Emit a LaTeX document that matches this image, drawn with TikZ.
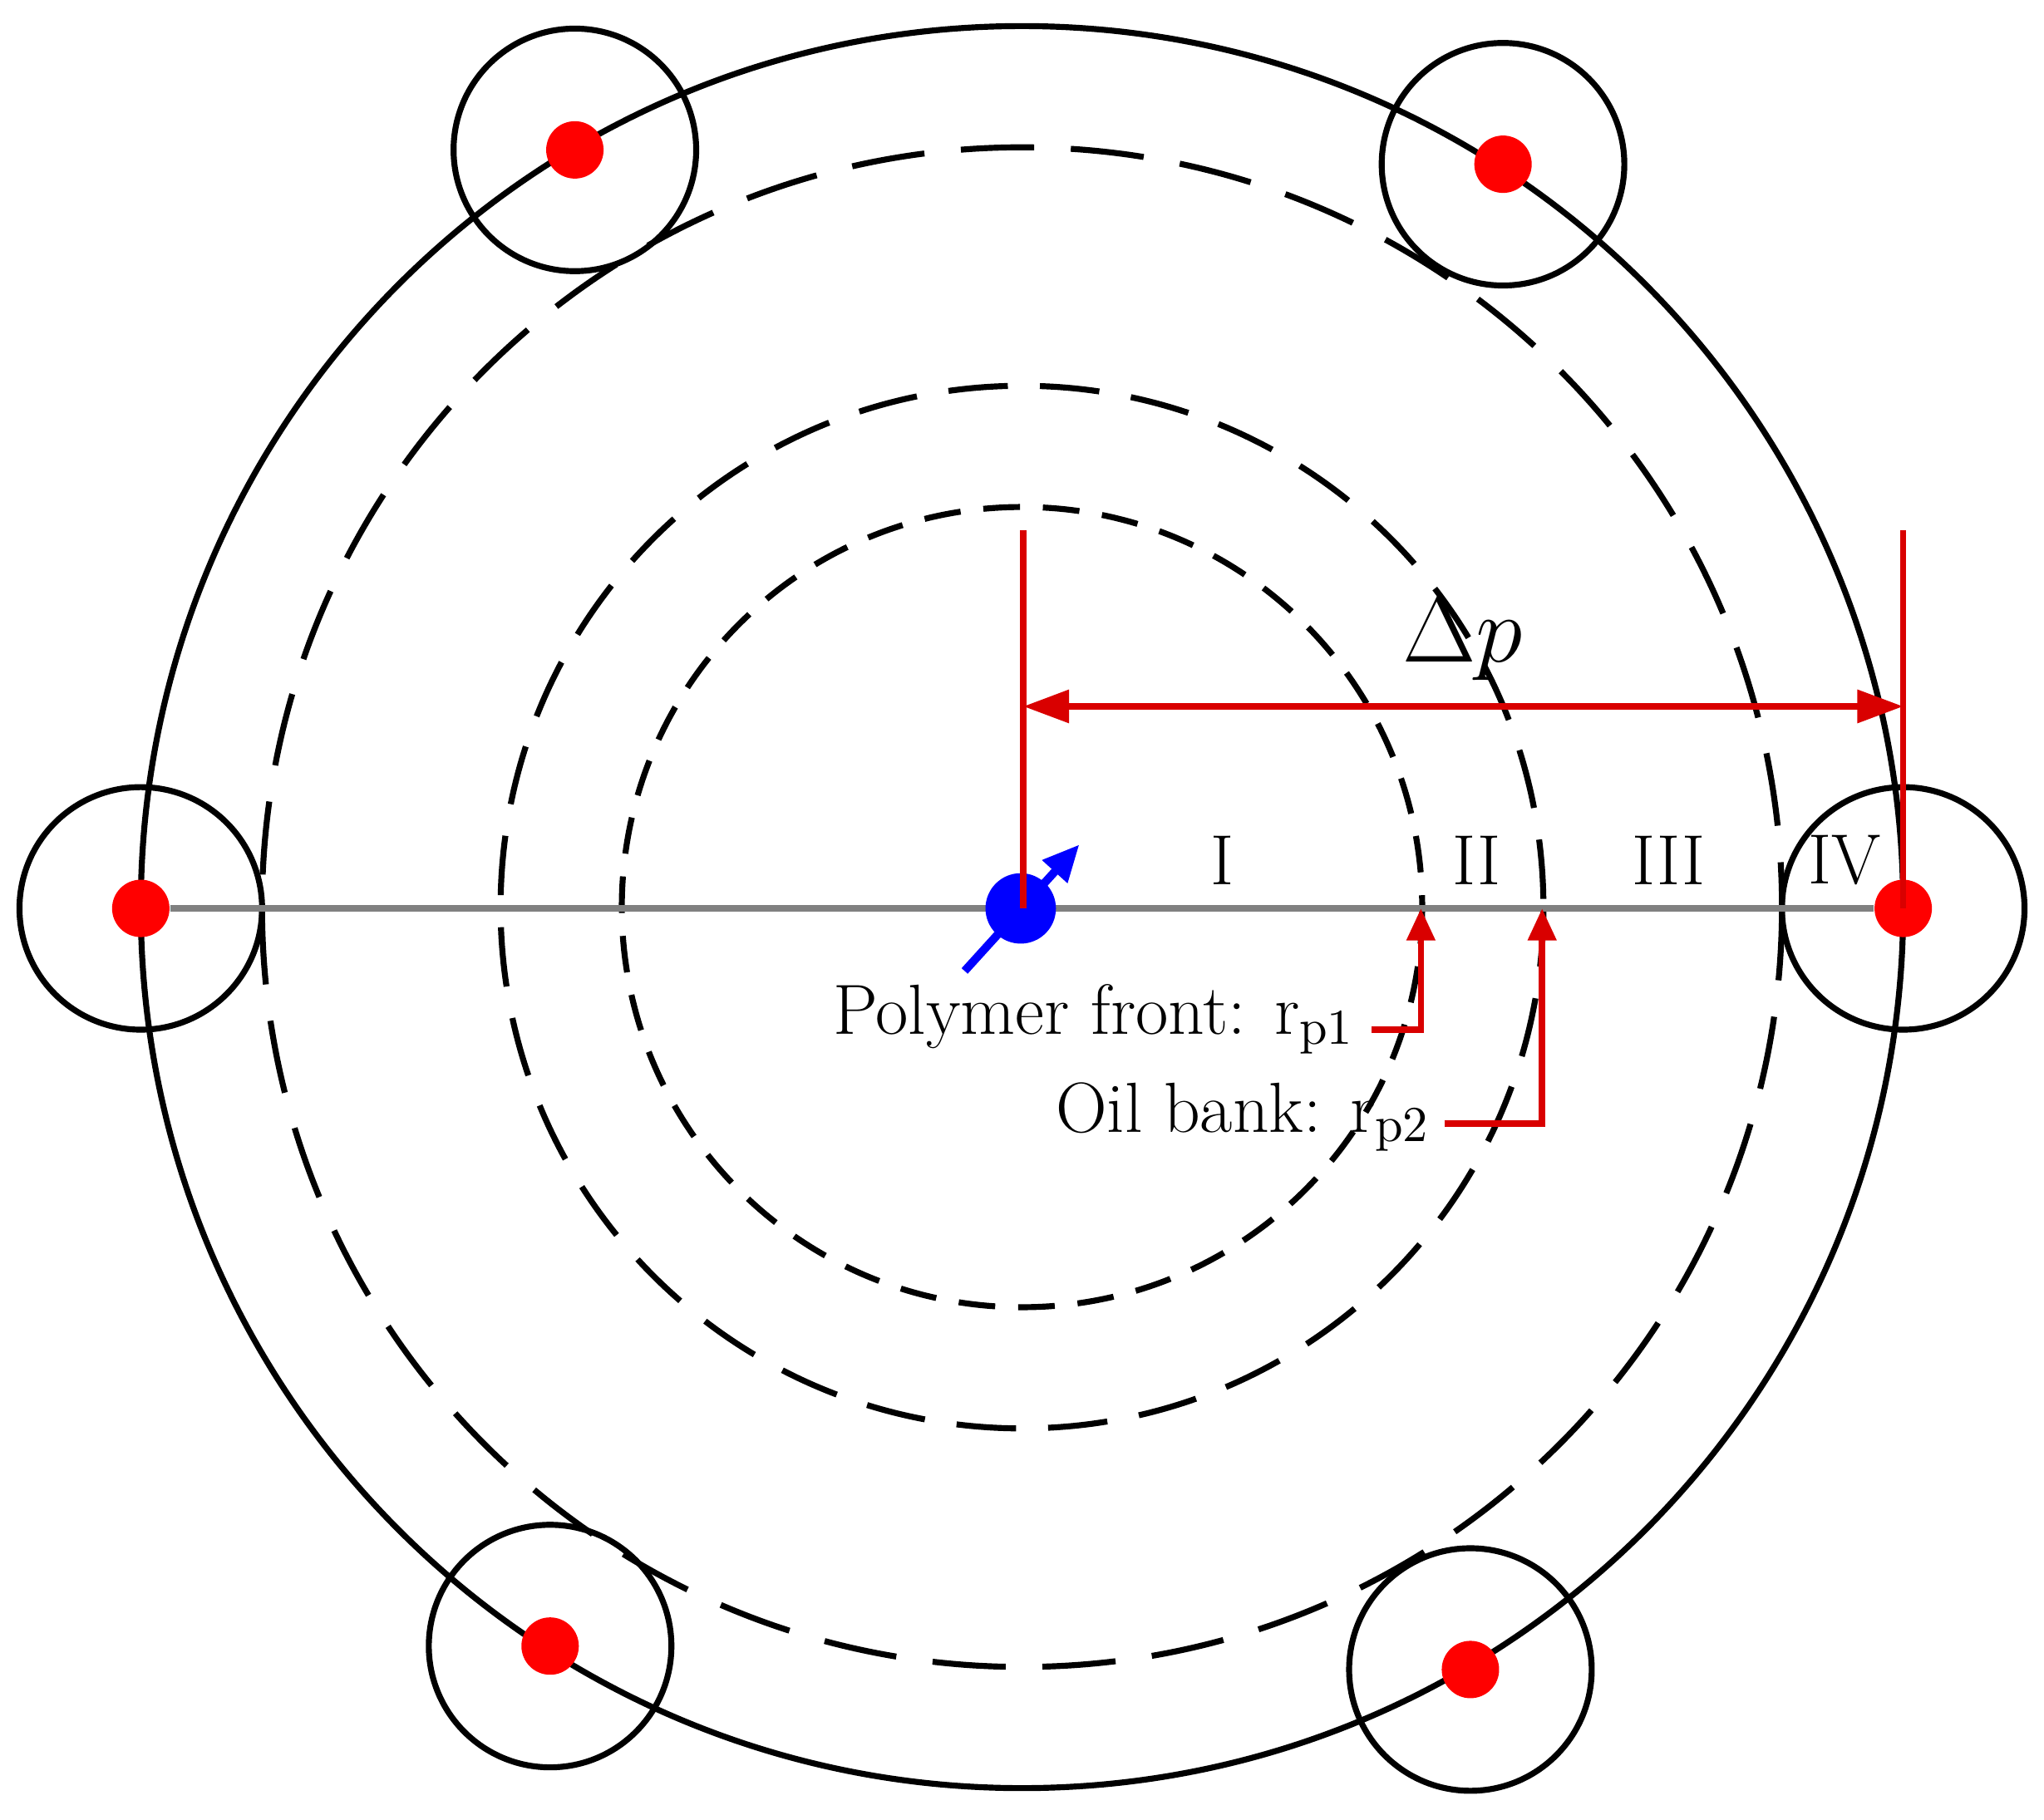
\documentclass[tikz,border=0pt]{standalone}
\usetikzlibrary{arrows.meta}
\begin{document}
\begin{tikzpicture}[x=0.01cm,y=-0.01cm,
  well/.style={circle,draw=black,line width=1.3pt,minimum size=1.86cm,inner sep=0},
  reddot/.style={circle,fill=red,minimum size=0.44cm,inner sep=0},
  dsh/.style={draw=black,line width=1.3pt,dash pattern=on 16pt off 8pt},
  rl/.style={draw=red!85!black,line width=1.4pt},
  lab/.style={font=\fontsize{15.5}{18}\selectfont},
  tip/.style={-{Triangle[length=7pt,width=6pt]}}]
\useasboundingbox (0,0) rectangle (1568,1396);
\coordinate (c) at (784,696);
\draw[line width=1.3pt] (c) circle[radius=676];
\draw[dsh] (c) circle[radius=583];
\draw[dsh,dash pattern=on 13pt off 7pt] (c) circle[radius=400];
\draw[dsh,dash pattern=on 8pt off 5pt] (c) circle[radius=307];
\foreach \n/\x/\y in {w1/441/115,w2/1153/126,w3/108/697,w4/1460/697,w5/422/1263,w6/1128/1281}{
  \node[well] (\n) at (\x,\y) {};
  \node[reddot] (d\n) at (\x,\y) {};
}
\draw[gray,line width=1.6pt] (dw3) -- (dw4);
\node[circle,fill=blue,minimum size=0.54cm,inner sep=0] (inj) at (783,697) {};
\coordinate (ba) at (740,745); \coordinate (bb) at (828,648);
\draw[blue,line width=1.8pt,-{Triangle[length=8pt,width=7pt]}] (ba) -- (bb);
\coordinate (v1a) at (785,407); \coordinate (v1b) at (785,697);
\coordinate (v2a) at (1460,407); \coordinate (v2b) at (1460,697);
\draw[rl] (v1a) -- (v1b);
\draw[rl] (v2a) -- (v2b);
\coordinate (h1) at (785,542); \coordinate (h2) at (1460,542);
\draw[rl,{Triangle[length=10pt,width=7pt]}-{Triangle[length=10pt,width=7pt]}] (h1) -- (h2);
\node[font=\fontsize{21}{25}\selectfont] (dp) at (1122,490) {$\Delta p$};
\node[lab] (r1) at (938,660) {I};
\node[lab] (r2) at (1133,660) {II};
\node[lab] (r3) at (1280,660) {III};
\node[lab] (r4) at (1415,660) {IV};
\node[lab,anchor=east,inner sep=0] (pf) at (1040,782) {Polymer front: r$_{\mathrm{p1}}$};
\node[lab,anchor=east,inner sep=0] (ob) at (1098,857) {Oil bank: r$_{\mathrm{p2}}$};
\coordinate (a1) at (1090,790); \coordinate (a1t) at (1090,697);
\coordinate (a2) at (1183,862); \coordinate (a2t) at (1183,697);
\draw[rl,tip] (pf.east) ++(12,8) -- (a1) -- (a1t);
\draw[rl,tip] (ob.east) ++(10,5) -- (a2) -- (a2t);
\end{tikzpicture}
\end{document}
